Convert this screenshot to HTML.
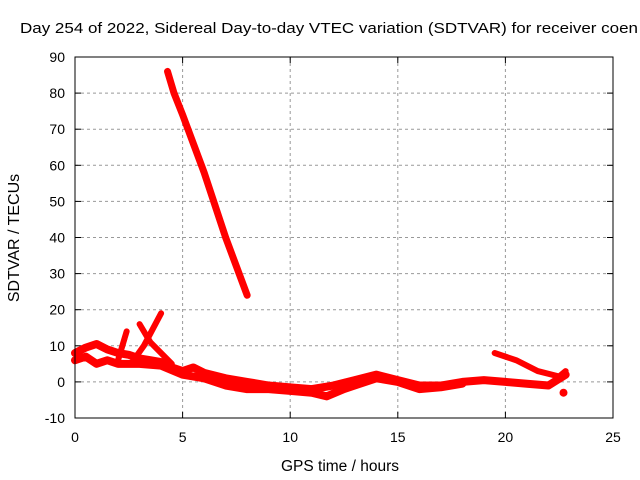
<!DOCTYPE html>
<html><head><meta charset="utf-8"><style>
body{margin:0;background:#fff;}
svg{display:block;font-family:"Liberation Sans",sans-serif;}
</style></head><body>
<svg id="chart" width="640" height="480">
<text x="20" y="33" font-size="15" textLength="618" lengthAdjust="spacingAndGlyphs">Day 254 of 2022, Sidereal Day-to-day VTEC variation (SDTVAR) for receiver coen</text>
<text x="340" y="471" font-size="15.5" text-anchor="middle">GPS time / hours</text>
<text transform="translate(19,238) rotate(-90)" font-size="16" text-anchor="middle">SDTVAR / TECUs</text>
<g id="grid"></g><g id="ticks"></g><g id="series"></g>
<rect x="75" y="57" width="538" height="361" fill="none" stroke="#000" stroke-width="1"/>
</svg>
<script>
const xTicks=[0,5,10,15,20,25];
const yTicks=[-10,0,10,20,30,40,50,60,70,80,90];
const steepX=[4.3,4.6,5,5.5,6,6.5,7,7.5,8];
const steepY=[86,80,74,66,58,49,40,32,24];
const upperX=[0,0.5,1,1.5,2,2.5,3,3.5,4,4.5,5,5.5,6,7,8,9,10,11,12,13,14,15,16,17,18,19,20,21,22,22.8];
const upperY=[8,9.5,10.5,9,8,7.5,6.5,6,5.5,4,3,4,2.5,1,0,-1,-1.5,-2,-1,0.5,2,0.5,-1,-1,0,0.5,0,-0.5,-1,2];
const lowerX=[0,0.5,1,1.5,2,3,4,5,6,7,8,9,10,11,11.7,12.5,13,14,15,16,17,18];
const lowerY=[6,7,5,6,5,5,4.5,2,1,-1,-2,-2,-2.5,-3,-4,-2,-1,1,0,-2,-1.5,-0.5];
const branch1X=[2,2.4];const branch1Y=[6,14];
const branch2X=[2.6,3.2,4];const branch2Y=[5,10,19];
const branch3X=[3,3.5,4.5];const branch3Y=[16,11,5];
const lateX=[19.5,20.5,21.5,22.5,22.8];const lateY=[8,6,3,1.5,3];
const dotX=[22.7];const dotY=[-3];
const NS="http://www.w3.org/2000/svg";
const X=h=>75+h*21.52, Y=v=>418-(v+10)*3.61;
const grid=document.getElementById('grid'),ticks=document.getElementById('ticks'),ser=document.getElementById('series');
function mk(t,a,p){const e=document.createElementNS(NS,t);for(const k in a)e.setAttribute(k,a[k]);p.appendChild(e);return e;}
xTicks.forEach(t=>{const x=X(t);
 if(t>0&&t<25){const g=mk('line',{x1:x,x2:x,y1:57,y2:418,stroke:'#999','stroke-dasharray':'3,3'},grid);
 
 }
 mk('line',{x1:x,x2:x,y1:418,y2:412,stroke:'#000'},ticks);mk('line',{x1:x,x2:x,y1:57,y2:63,stroke:'#000'},ticks);
 const l=mk('text',{x:x,y:442,'font-size':14,'text-anchor':'middle'},ticks);l.textContent=t;
 
 });
yTicks.forEach(t=>{const y=Y(t);
 if(t>-10&&t<90){const g=mk('line',{x1:75,x2:613,y1:y,y2:y,stroke:'#999','stroke-dasharray':'3,3'},grid);
 
 }
 mk('line',{x1:75,x2:81,y1:y,y2:y,stroke:'#000'},ticks);mk('line',{x1:613,x2:607,y1:y,y2:y,stroke:'#000'},ticks);
 const l=mk('text',{x:65,y:y+5,'font-size':14,'text-anchor':'end'},ticks);l.textContent=t;
 
 });
function line(xs,ys,w,name){const pts=xs.map((x,i)=>X(x)+','+Y(ys[i])).join(' ');
 const p=mk('polyline',{points:pts,fill:'none',stroke:'#f00','stroke-width':w,'stroke-linejoin':'round','stroke-linecap':'round'},ser);
 
 }
line(steepX,steepY,7,'steep-arc-series');
line(upperX,upperY,8,'upper-band-series');
line(lowerX,lowerY,8,'lower-band-series');
line(branch1X,branch1Y,6,'branch-series-1');
line(branch2X,branch2Y,6,'branch-series-2');
line(branch3X,branch3Y,6,'branch-series-3');
line(lateX,lateY,6,'late-arc-series');
dotX.forEach((d,i)=>{const c=mk('circle',{cx:X(d),cy:Y(dotY[i]),r:4,fill:'#f00'},ser);
 
 });
</script>
</body></html>
